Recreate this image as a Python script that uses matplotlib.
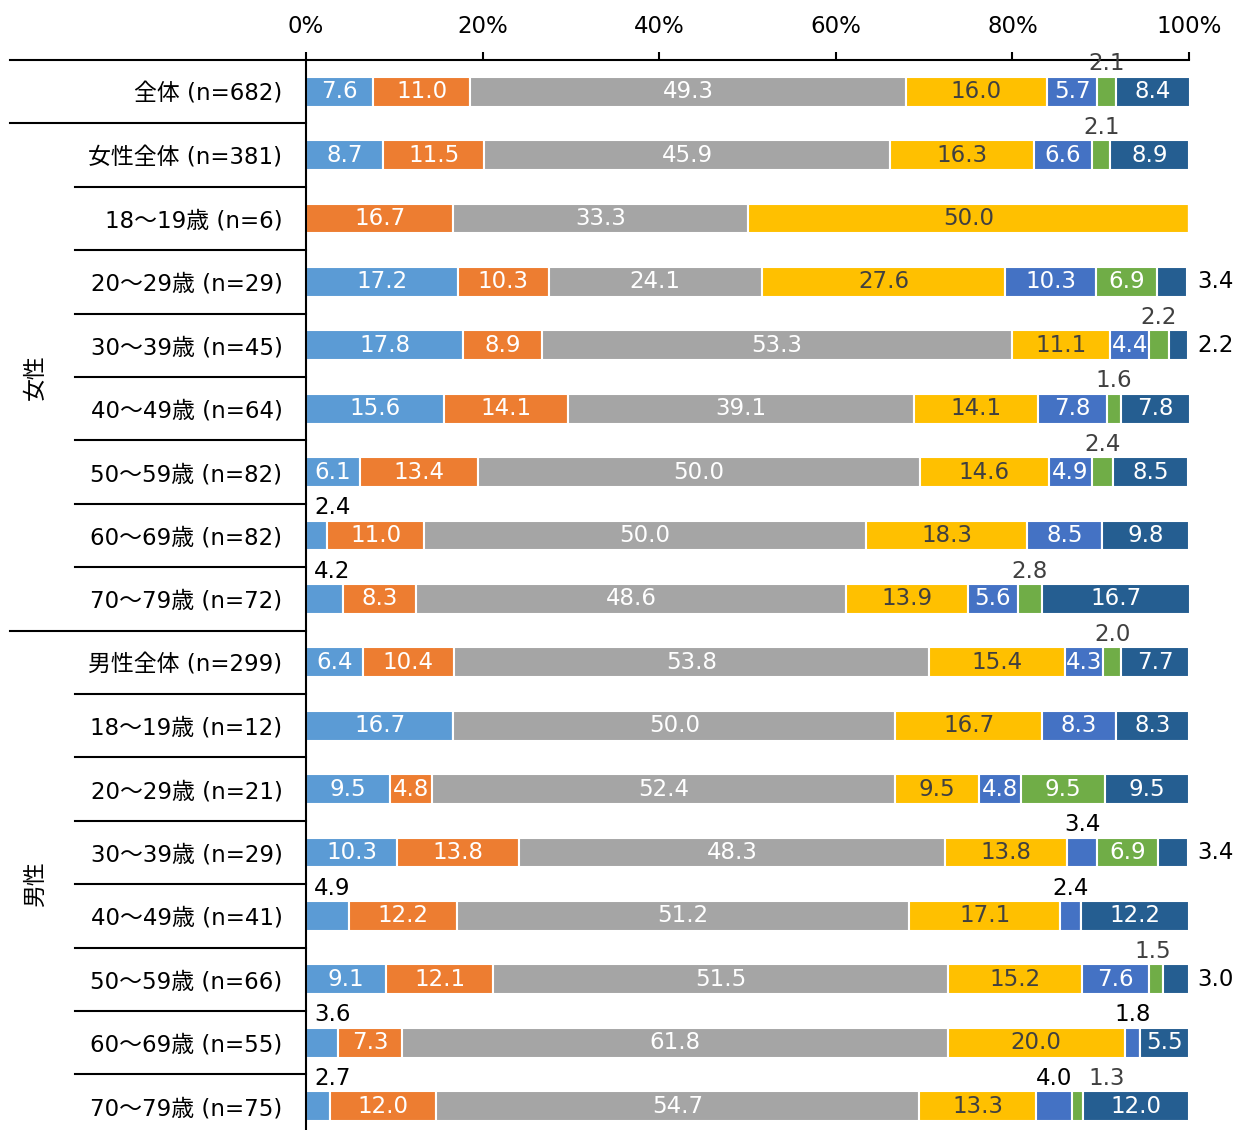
import matplotlib
matplotlib.use("Agg")
import matplotlib.pyplot as plt
import numpy as np

# DejaVu first for the Verdana-like digits, CJK glyphs fall back to Noto
plt.rcParams["font.family"] = ["DejaVu Sans", "Noto Sans CJK JP"]

row_labels = [
    "全体 (n=682)",
    "女性全体 (n=381)",
    "18～19歳 (n=6)",
    "20～29歳 (n=29)",
    "30～39歳 (n=45)",
    "40～49歳 (n=64)",
    "50～59歳 (n=82)",
    "60～69歳 (n=82)",
    "70～79歳 (n=72)",
    "男性全体 (n=299)",
    "18～19歳 (n=12)",
    "20～29歳 (n=21)",
    "30～39歳 (n=29)",
    "40～49歳 (n=41)",
    "50～59歳 (n=66)",
    "60～69歳 (n=55)",
    "70～79歳 (n=75)",
]

# seven answer categories, one list per category (rows in order above)
s1 = [7.6, 8.7, 0, 17.2, 17.8, 15.6, 6.1, 2.4, 4.2, 6.4, 16.7, 9.5, 10.3, 4.9, 9.1, 3.6, 2.7]
s2 = [11.0, 11.5, 16.7, 10.3, 8.9, 14.1, 13.4, 11.0, 8.3, 10.4, 0, 4.8, 13.8, 12.2, 12.1, 7.3, 12.0]
s3 = [49.3, 45.9, 33.3, 24.1, 53.3, 39.1, 50.0, 50.0, 48.6, 53.8, 50.0, 52.4, 48.3, 51.2, 51.5, 61.8, 54.7]
s4 = [16.0, 16.3, 50.0, 27.6, 11.1, 14.1, 14.6, 18.3, 13.9, 15.4, 16.7, 9.5, 13.8, 17.1, 15.2, 20.0, 13.3]
s5 = [5.7, 6.6, 0, 10.3, 4.4, 7.8, 4.9, 8.5, 5.6, 4.3, 8.3, 4.8, 3.4, 2.4, 7.6, 1.8, 4.0]
s6 = [2.1, 2.1, 0, 6.9, 2.2, 1.6, 2.4, 0, 2.8, 2.0, 0, 9.5, 6.9, 0, 1.5, 0, 1.3]
s7 = [8.4, 8.9, 0, 3.4, 2.2, 7.8, 8.5, 9.8, 16.7, 7.7, 8.3, 9.5, 3.4, 12.2, 3.0, 5.5, 12.0]
series = [s1, s2, s3, s4, s5, s6, s7]

colors = ["#5B9BD5", "#ED7D31", "#A5A5A5", "#FFC000", "#4472C4", "#70AD47", "#255E91"]
text_colors = ["white", "white", "white", "#404040", "white", "white", "white"]

# labels drawn outside the bar: (row, series) -> where, colour, x nudge in px
outside = {
    (0, 5): ("top", "#404040", 0),
    (1, 5): ("top", "#404040", 0),
    (3, 6): ("right", "black", 0),
    (4, 5): ("top", "#404040", 0),
    (4, 6): ("right", "black", 0),
    (5, 5): ("top", "#404040", 0),
    (6, 5): ("top", "#404040", 0),
    (7, 0): ("topleft", "black", 0),
    (8, 0): ("topleft", "black", 0),
    (8, 5): ("top", "#404040", 0),
    (9, 5): ("top", "#404040", 0),
    (12, 4): ("top", "black", 0),
    (12, 6): ("right", "black", 0),
    (13, 0): ("topleft", "black", 0),
    (13, 4): ("top", "black", 0),
    (14, 5): ("top", "#404040", -3),
    (14, 6): ("right", "black", 0),
    (15, 0): ("topleft", "black", 0),
    (15, 4): ("top", "black", 0),
    (16, 0): ("topleft", "black", 0),
    (16, 4): ("top", "black", 0),
    (16, 5): ("top", "#404040", 29),
}

W, H = 1239, 1130
fig = plt.figure(figsize=(W / 100, H / 100), dpi=100)
row_px = 63.4
n = len(row_labels)
ax_left, ax_right, ax_top = 306, 1189, 60
ax_h = n * row_px
ax = fig.add_axes([ax_left / W, 1 - (ax_top + ax_h) / H, (ax_right - ax_left) / W, ax_h / H])

fs = 16.5
y = np.arange(n)
left = np.zeros(n)
for k, vals in enumerate(series):
    vals = np.array(vals)
    ax.barh(y, vals, left=left, height=0.47, color=colors[k], edgecolor="white", linewidth=1.5)
    for i, v in enumerate(vals):
        if v <= 0:
            continue
        cx = left[i] + v / 2
        if (i, k) in outside:
            where, col, dx = outside[(i, k)]
            if where == "top":
                ax.annotate(f"{v:.1f}", (cx, i - 0.44), xytext=(dx * 0.72, 0), textcoords="offset points",
                            ha="center", va="center", color=col, fontsize=fs)
            elif where == "topleft":
                ax.annotate(f"{v:.1f}", (left[i] + 0.9, i - 0.44), ha="left", va="center",
                            color=col, fontsize=fs)
            else:
                ax.annotate(f"{v:.1f}", (100, i), xytext=(6, 0), textcoords="offset points",
                            ha="left", va="center", color=col, fontsize=fs)
        else:
            ax.text(cx, i, f"{v:.1f}", ha="center", va="center", color=text_colors[k], fontsize=fs)
    left += vals

ax.set_xlim(0, 100)
ax.set_ylim(n - 0.5, -0.5)
ax.xaxis.tick_top()
ax.set_xticks(range(0, 101, 20))
ax.set_xticklabels([f"{t}%" for t in range(0, 101, 20)])
ax.tick_params(axis="x", direction="out", length=6, width=1.5, labelsize=fs, pad=10)
ax.set_yticks(y)
ax.set_yticklabels(row_labels)
ax.tick_params(axis="y", length=0, labelsize=fs, pad=17)

for side in ["right", "bottom"]:
    ax.spines[side].set_visible(False)
ax.spines["top"].set_linewidth(1.5)
ax.spines["left"].set_linewidth(1.5)

# row separators in the label area
tr = ax.get_yaxis_transform()
full_x = (10 - ax_left) / (ax_right - ax_left)
short_x = (75 - ax_left) / (ax_right - ax_left)
for b in np.arange(-0.5, n - 1, 1.0):
    x0 = full_x if b in (-0.5, 0.5, 8.5) else short_x
    ax.plot([x0, 0], [b, b], color="black", lw=1.5, transform=tr, clip_on=False)

gx = (35 - ax_left) / (ax_right - ax_left)
ax.text(gx, 4.5, "女性", transform=tr, rotation=90, ha="center", va="center", fontsize=fs)
ax.text(gx, 12.5, "男性", transform=tr, rotation=90, ha="center", va="center", fontsize=fs)

fig.savefig("out.png", dpi=100)
